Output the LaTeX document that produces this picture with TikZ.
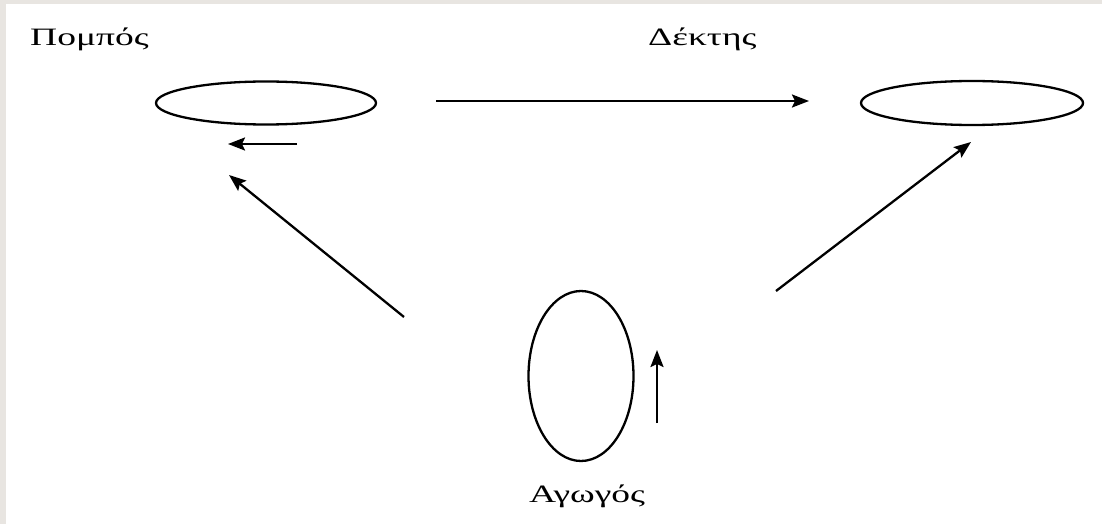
\documentclass[tikz,border=0pt]{standalone}
\usepackage{fontspec}
\setmainfont{Liberation Serif}
\usetikzlibrary{arrows.meta,shapes.geometric}
\definecolor{frame}{HTML}{E8E5E1}
\tikzset{
  loop/.style={draw=black, line width=2.3pt, ellipse, inner sep=0pt},
  vec/.style={draw=black, line width=2.3pt, -{Stealth[length=17pt,width=13pt,inset=3pt]}},
  lbl/.style={font=\fontsize{25}{28}\selectfont, inner sep=0pt}
}
\begin{document}
\begin{tikzpicture}[x=1pt,y=-1pt]
\fill[frame] (0,0) rectangle (1102,524);
\fill[white] (6,4) rectangle (1102,524);
\useasboundingbox (0,0) rectangle (1102,524);
% labels
\node[lbl, anchor=base west] (tx) at (30,46) {\scalebox{1.5}[1]{Πομπός}};
\node[lbl, anchor=base west] (rx) at (648,46) {\scalebox{1.5}[1]{Δέκτης}};
\node[lbl, anchor=base] (cd) at (587,502) {\scalebox{1.5}[1]{Αγωγός}};
% loops
\node[loop, minimum width=220pt, minimum height=43pt] (txl) at (266,103) {};
\node[loop, minimum width=222pt, minimum height=44pt] (rxl) at (972,103) {};
\node[loop, minimum width=105pt, minimum height=170pt] (cdl) at (581,376) {};
% arrow coordinates
\coordinate (h1) at (436,101);
\coordinate (h2) at (809,101);
\coordinate (s1) at (297,144);
\coordinate (s2) at (228,144);
\coordinate (l1) at (404,317);
\coordinate (l2) at (229,175);
\coordinate (r1) at (776,291);
\coordinate (r2) at (971,142);
\coordinate (v1) at (657,423);
\coordinate (v2) at (657,350);
\draw[vec] (h1) -- (h2);
\draw[vec] (s1) -- (s2);
\draw[vec] (l1) -- (l2);
\draw[vec] (r1) -- (r2);
\draw[vec] (v1) -- (v2);
\end{tikzpicture}
\end{document}
